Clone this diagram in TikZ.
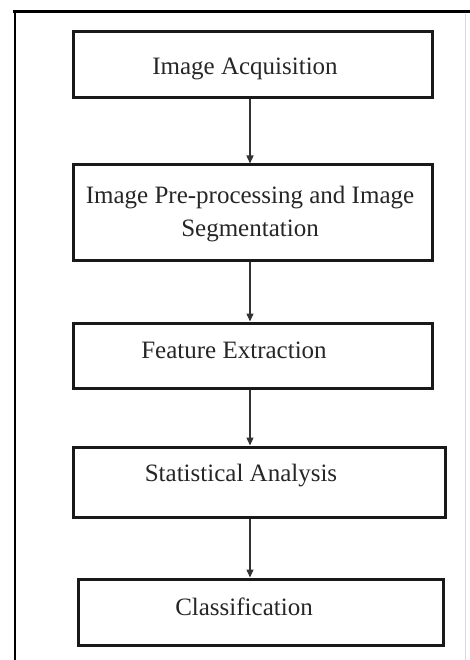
\documentclass[tikz,border=0pt]{standalone}
\usepackage{fontspec}
\setmainfont{Liberation Serif}
\usetikzlibrary{arrows.meta,calc}
\begin{document}
\begin{tikzpicture}[x=1pt,y=-1pt,
  stepbox/.style={draw=black!90,line width=3pt,inner sep=0pt},
  lbl/.style={inner sep=0pt,align=center,text=black!85,font=\fontsize{25}{33}\selectfont},
  arr/.style={draw=black!80,line width=1.4pt,-{Triangle[length=8pt,width=7pt]}},
  frame/.style={draw=black,line cap=rect}]
\useasboundingbox (0,0) rectangle (469,660);
% outer frame
\coordinate (ftl) at (15,11.5);
\coordinate (ftr) at (469,11.5);
\coordinate (fbl) at (15,660);
\coordinate (frt) at (465,14);
\coordinate (frb) at (465,660);
\draw[frame,line width=3.5pt] (ftl) -- (ftr);
\draw[frame,line width=2.2pt] (ftl) -- (fbl);
\draw[black!15,line width=1pt] (frt) -- (frb);
% boxes
\node[stepbox,minimum width=359,minimum height=66] (b1) at (252.5,65) {};
\node[stepbox,minimum width=359,minimum height=95] (b2) at (252.5,212.5) {};
\node[stepbox,minimum width=359,minimum height=65] (b3) at (252.5,355.5) {};
\node[stepbox,minimum width=372,minimum height=70] (b4) at (259,482) {};
\node[stepbox,minimum width=365,minimum height=66] (b5) at (260.5,612) {};
% texts
\node[lbl] (t1) at (245,69) {Image Acquisition};
\node[lbl] (t2) at (250,214) {Image Pre-processing and Image\\Segmentation};
\node[lbl] (t3) at (234,350) {Feature Extraction};
\node[lbl] (t4) at (241,476) {Statistical Analysis};
\node[lbl] (t5) at (244,607) {Classification};
% arrows
\coordinate (ax) at (250,0);
\draw[arr] (b1.south -| ax) -- (b2.north -| ax);
\draw[arr] (b2.south -| ax) -- (b3.north -| ax);
\draw[arr] (b3.south -| ax) -- (b4.north -| ax);
\draw[arr] (b4.south -| ax) -- (b5.north -| ax);
\end{tikzpicture}
\end{document}
